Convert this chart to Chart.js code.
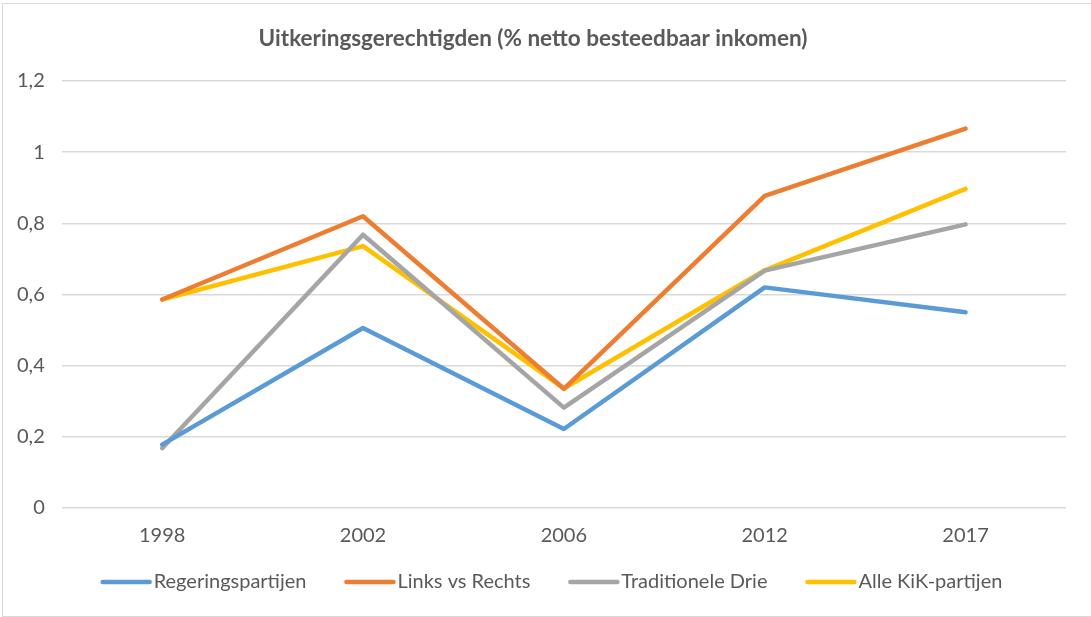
<!DOCTYPE html>
<html>
<head>
<meta charset="utf-8">
<script src="https://cdn.jsdelivr.net/npm/chart.js@4/dist/chart.umd.min.js"></script>
<style>
  body { margin: 0; background: #fff; }
  .frame { position: absolute; left: 2px; top: 3px; width: 1100px; height: 612px; border: 1px solid #d9d9d9; }
  .wrap { position: absolute; left: 0px; top: 4px; width: 1091px; height: 611px; }
</style>
</head>
<body>
<div class="frame"></div>
<div class="wrap"><canvas id="myChart"></canvas></div>
<script>
// data
const years = ['1998', '2002', '2006', '2012', '2017'];
const regering = [0.178, 0.506, 0.222, 0.620, 0.550];
const linksRechts = [0.586, 0.820, 0.335, 0.877, 1.066];
const traditioneel = [0.168, 0.768, 0.282, 0.667, 0.797];
const alleKik = [0.586, 0.736, 0.336, 0.668, 0.897];
const yTicks = [0, 0.2, 0.4, 0.6, 0.8, 1, 1.2];

const textColor = '#595959';
const fontName = 'Lato, "Liberation Sans", sans-serif';

function line(label, data, color) {
    return {
        label: label,
        data: data,
        borderColor: color,
        backgroundColor: color,
        borderWidth: 4.5,
        pointRadius: 0,
        tension: 0,
        borderCapStyle: 'round',
        borderJoinStyle: 'round'
    };
}

// legend drawn by hand: short thick line, text right next to it
const lineLegend = {
    id: 'lineLegend',
    afterDraw: function(chart) {
        const c = chart.ctx;
        c.save();
        c.font = '20px ' + fontName;
        const items = chart.data.datasets.map(function(ds) {
            return { label: ds.label, color: ds.borderColor, w: 51 + 2 + c.measureText(ds.label).width };
        });
        const gap = 38;
        let total = gap * (items.length - 1);
        items.forEach(function(it) { total += it.w; });
        let x = chart.width / 2 + 6 - total / 2;
        const y = 578;
        items.forEach(function(it) {
            c.strokeStyle = it.color;
            c.lineWidth = 4.5;
            c.lineCap = 'round';
            c.beginPath();
            c.moveTo(x + 2, y);
            c.lineTo(x + 49, y);
            c.stroke();
            c.fillStyle = textColor;
            c.textBaseline = 'middle';
            c.textAlign = 'left';
            c.fillText(it.label, x + 53, y);
            x += it.w + gap;
        });
        c.restore();
    }
};

var ctx = document.getElementById('myChart').getContext('2d');
var chart = new Chart(ctx, {
    type: 'line',
    data: {
        labels: years,
        datasets: [
            line('Regeringspartijen', regering, '#5B9BD5'),
            line('Links vs Rechts', linksRechts, '#ED7D31'),
            line('Traditionele Drie', traditioneel, '#A5A5A5'),
            line('Alle KiK-partijen', alleKik, '#FFC000')
        ]
    },
    plugins: [lineLegend],
    options: {
        responsive: true,
        maintainAspectRatio: false,
        animation: false,
        layout: { padding: { left: 0, right: 25, top: 8, bottom: 59 } },
        plugins: {
            title: {
                display: true,
                text: 'Uitkeringsgerechtigden (% netto besteedbaar inkomen)',
                color: textColor,
                font: { family: fontName, size: 22.5, weight: 'bold' },
                padding: { top: 13, bottom: 29 }
            },
            legend: { display: false },
            tooltip: { enabled: false }
        },
        scales: {
            x: {
                offset: true,
                grid: { display: false },
                border: { display: false },
                ticks: { color: textColor, font: { family: fontName, size: 20 }, padding: 8 }
            },
            y: {
                min: 0,
                max: 1.2,
                afterBuildTicks: function(axis) {
                    axis.ticks = yTicks.map(function(v) { return { value: v }; });
                },
                grid: { color: '#d9d9d9', lineWidth: 1.5, drawTicks: false },
                border: { display: false },
                ticks: {
                    color: textColor,
                    font: { family: fontName, size: 20 },
                    padding: 17,
                    callback: function(v) { return String(Math.round(v * 10) / 10).replace('.', ','); }
                }
            }
        }
    }
});
</script>
</body>
</html>
